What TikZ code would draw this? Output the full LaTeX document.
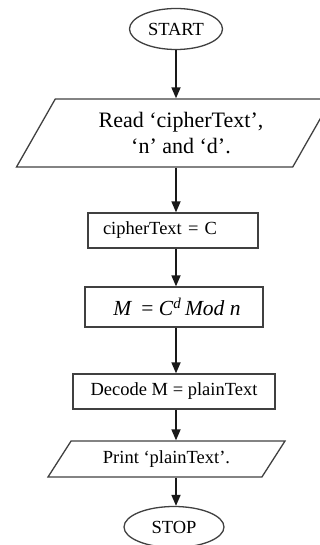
\documentclass[tikz,border=0pt]{standalone}
\usepackage{fontspec}
\setmainfont{Liberation Serif}
\usetikzlibrary{arrows.meta,shapes.geometric}

\begin{document}
\begin{tikzpicture}[
  x=1pt,y=-1pt,
  line width=1.3pt,
  term/.style={draw=black!75,ellipse,inner sep=0pt,minimum height=41,font=\fontsize{18.5}{21}\selectfont},
  io/.style={draw=black!75,trapezium,trapezium stretches body,inner sep=0pt,align=center},
  proc/.style={draw=black!75,rectangle,inner sep=0pt,font=\fontsize{18.5}{21}\selectfont},
  arr/.style={-{Triangle[length=11pt,width=9pt]},line width=1.7pt,black!90}
]
\useasboundingbox (0,0) rectangle (320,545);
\clip (0,0) rectangle (320,545);
% terminals, input/output and process steps
\node[term,minimum width=93] (start) at (176,29) {START};
\node[io,trapezium left angle=47,trapezium right angle=133,minimum width=315,minimum height=68,
  font=\fontsize{22}{26}\selectfont] (read) at (174,133)
  {\hspace*{14pt}Read `cipherText',\\\hspace*{14pt}`n' and `d'.};
\node[proc,minimum width=170,minimum height=35,text width=140,align=left,inner xsep=15pt] (assign) at (173,230.5)
  {cipherText = C};
\node[proc,minimum width=178,minimum height=40,font=\fontsize{21.5}{24}\selectfont] (decrypt) at (174,307)
  {\hspace*{6pt}\textit{M}\, = \textit{C}\textsuperscript{\textit{d}}\,\textit{Mod n}};
\node[proc,minimum width=202,minimum height=35] (decode) at (174,391.5) {Decode M = plainText};
\node[io,trapezium left angle=36,trapezium right angle=144,minimum width=237,minimum height=36,
  font=\fontsize{18.5}{21}\selectfont] (print) at (166.5,459) {Print `plainText'.};
\node[term,minimum width=100] (stop) at (174,527) {STOP};
% flow
\draw[arr] (start) -- (start |- read.north);
\draw[arr] (read.south -| start) -- (start |- assign.north);
\draw[arr] (assign.south -| start) -- (start |- decrypt.north);
\draw[arr] (decrypt.south -| start) -- (start |- decode.north);
\draw[arr] (decode.south -| start) -- (start |- print.north);
\draw[arr] (print.south -| start) -- (start |- stop.north);
\end{tikzpicture}
\end{document}
